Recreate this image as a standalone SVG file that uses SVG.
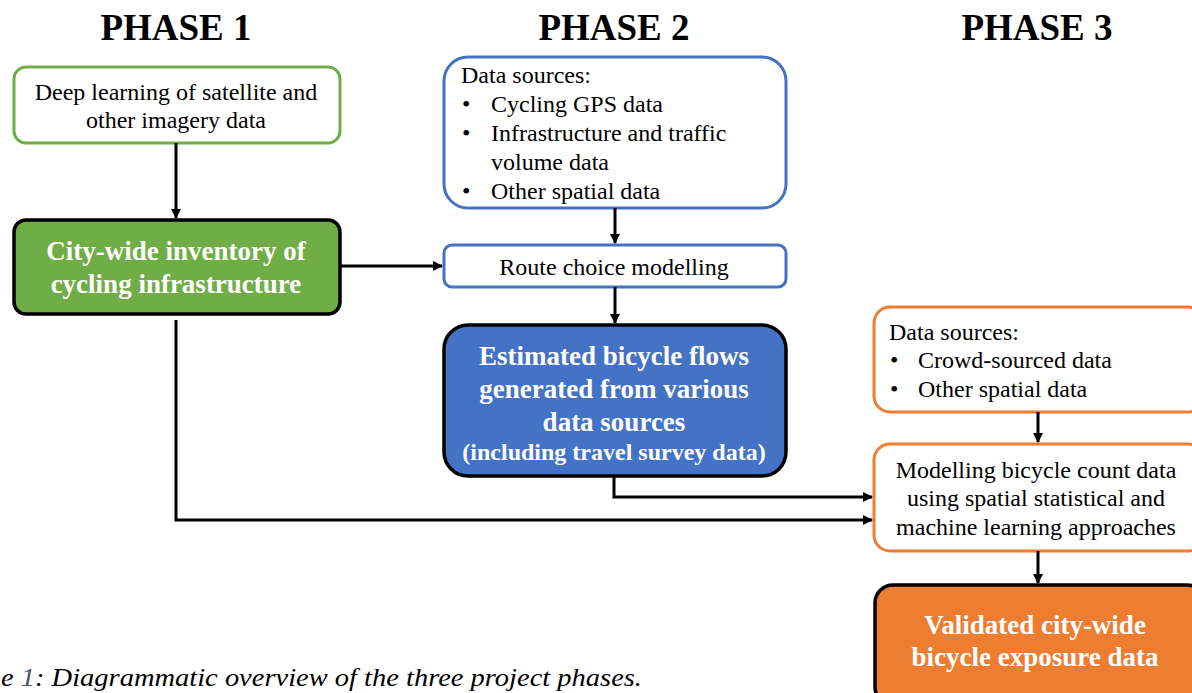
<svg xmlns="http://www.w3.org/2000/svg" width="1192" height="693" viewBox="0 0 1192 693">
<defs>
<marker id="ah" viewBox="0 0 10 10" refX="9" refY="5" markerWidth="10" markerHeight="10" markerUnits="userSpaceOnUse" orient="auto"><path d="M0,0 L10,5 L0,10 z" fill="#000"/></marker>
<style>
text{font-family:"Liberation Serif","Times New Roman",serif;}
.h{font-size:37px;font-weight:bold;text-anchor:middle;fill:#000;}
.t{font-size:24px;fill:#000;}
.c{text-anchor:middle;}
.b{font-size:27px;font-weight:bold;fill:#fff;text-anchor:middle;}
.conn path{fill:none;stroke:#000;stroke-width:3;marker-end:url(#ah);}
.g{fill:#fff;stroke:#70ad47;stroke-width:3;}
.bl{fill:#fff;stroke:#4472c4;stroke-width:3;}
.o{fill:#fff;stroke:#ed7d31;stroke-width:3;}
.k{stroke:#000;stroke-width:3.5;}
</style>
</defs>
<rect width="1192" height="693" fill="#fff"/>
<g id="headers">
<text class="h" x="176" y="40">PHASE 1</text>
<text class="h" x="614" y="40">PHASE 2</text>
<text class="h" x="1037" y="40">PHASE 3</text>
</g>
<g id="n1">
<rect class="g" x="14" y="67" width="326" height="76" rx="12"/>
<text class="t c" x="176" y="100">Deep learning of satellite and</text>
<text class="t c" x="176" y="128">other imagery data</text>
</g>
<g id="n2">
<rect class="k" x="14" y="220" width="326" height="94" rx="12" fill="#70ad47"/>
<text class="b" x="176" y="260">City-wide inventory of</text>
<text class="b" x="176" y="293">cycling infrastructure</text>
</g>
<g id="n3">
<rect class="bl" x="444" y="57" width="342" height="151" rx="24"/>
<text class="t" x="461" y="83">Data sources:</text>
<text class="t" x="462" y="112">•</text><text class="t" x="491" y="112">Cycling GPS data</text>
<text class="t" x="462" y="141">•</text><text class="t" x="491" y="141">Infrastructure and traffic</text>
<text class="t" x="491" y="170">volume data</text>
<text class="t" x="462" y="199">•</text><text class="t" x="491" y="199">Other spatial data</text>
</g>
<g id="n4">
<rect class="bl" x="444" y="245" width="342" height="42" rx="8"/>
<text class="t c" x="614" y="275">Route choice modelling</text>
</g>
<g id="n5">
<rect class="k" x="444" y="325" width="342" height="151" rx="24" fill="#4472c4"/>
<text class="b" x="614" y="365">Estimated bicycle flows</text>
<text class="b" x="614" y="398">generated from various</text>
<text class="b" x="614" y="431">data sources</text>
<text class="b" x="614" y="460" style="font-size:24px">(including travel survey data)</text>
</g>
<g id="n6">
<rect class="o" x="874" y="307" width="330" height="105" rx="16"/>
<text class="t" x="889" y="340">Data sources:</text>
<text class="t" x="890" y="368">•</text><text class="t" x="918" y="368">Crowd-sourced data</text>
<text class="t" x="890" y="397">•</text><text class="t" x="918" y="397">Other spatial data</text>
</g>
<g id="n7">
<rect class="o" x="874" y="444" width="330" height="107" rx="16"/>
<text class="t c" x="1036" y="478">Modelling bicycle count data</text>
<text class="t c" x="1036" y="506">using spatial statistical and</text>
<text class="t c" x="1036" y="535">machine learning approaches</text>
</g>
<g id="n8">
<rect class="k" x="875" y="585" width="330" height="120" rx="18" fill="#ed7d31"/>
<text class="b" x="1035" y="634">Validated city-wide</text>
<text class="b" x="1035" y="666">bicycle exposure data</text>
</g>
<g class="conn" id="connectors">
<path d="M176,143 V218"/>
<path d="M340,266 H442"/>
<path d="M615,208 V243"/>
<path d="M615,287 V323"/>
<path d="M614,476 V497 H872"/>
<path d="M176,320 V520 H872"/>
<path d="M1038,412 V442"/>
<path d="M1038,551 V583"/>
</g>
<g id="caption">
<text x="1" y="686" style="font-size:25px;font-style:italic;fill:#000" textLength="641" lengthAdjust="spacingAndGlyphs">e <tspan fill="#44546a">1</tspan>: Diagrammatic overview of the three project phases.</text>
</g>
</svg>
